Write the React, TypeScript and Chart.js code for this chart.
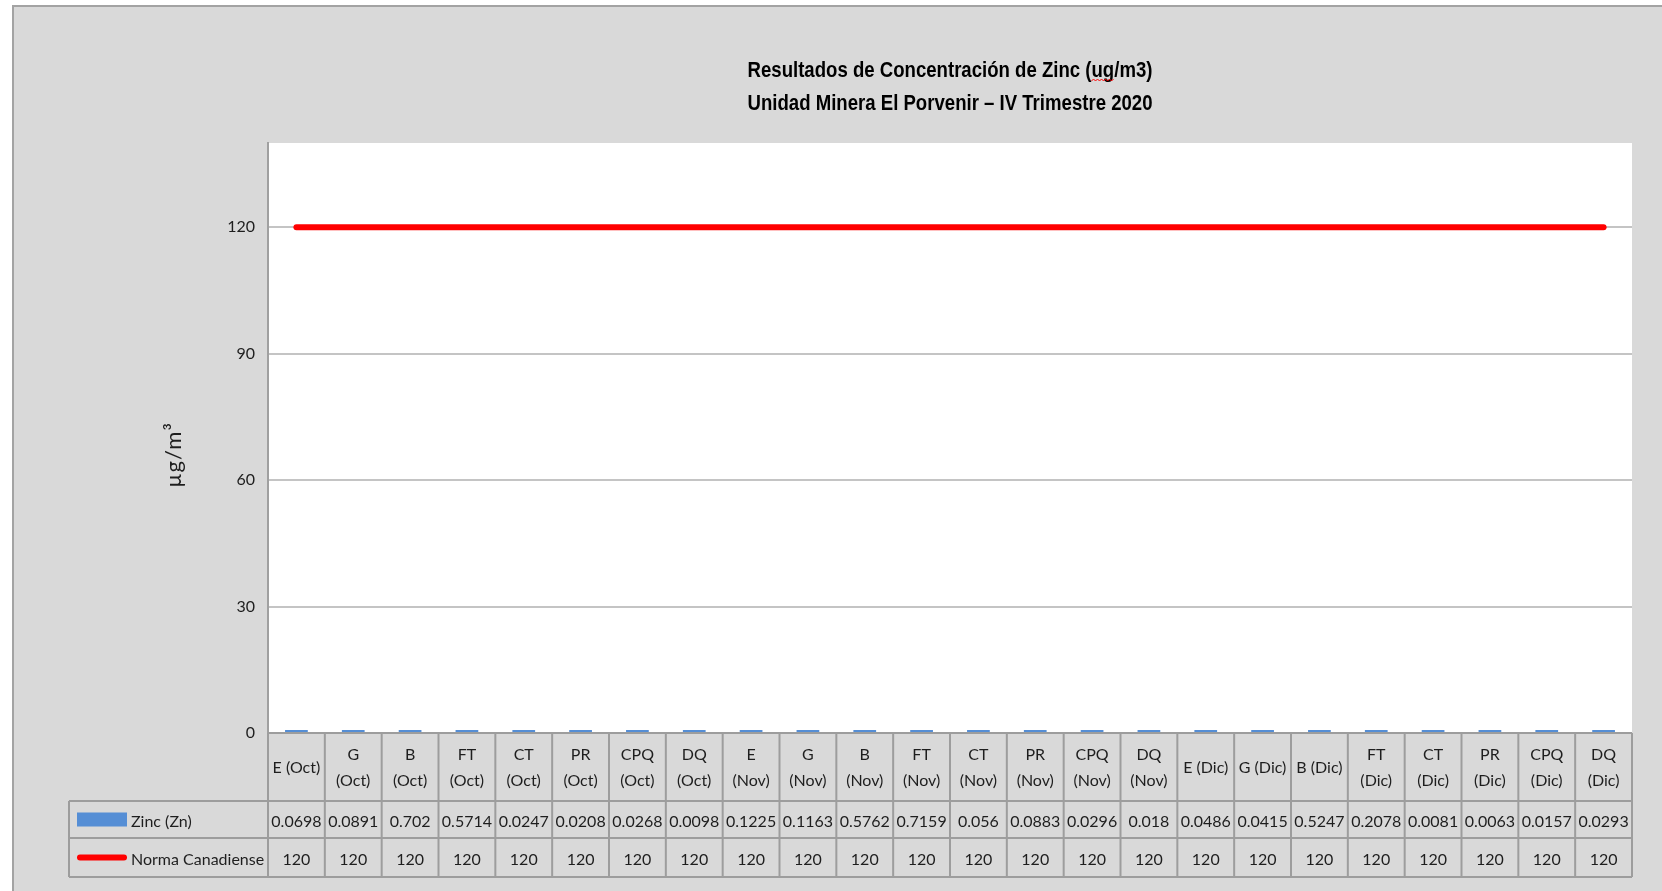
import React, { useEffect, useRef } from "react";
import { Chart, registerables } from "chart.js";

Chart.register(...registerables);

// ---------- data ----------
const TITLE_LINES = [
  "Resultados de Concentración de Zinc (ug/m3)",
  "Unidad Minera El Porvenir – IV Trimestre 2020",
];
const Y_TITLE = "µg/m³";

const categories: (string | string[])[] = [
  "E (Oct)", ["G", "(Oct)"], ["B", "(Oct)"], ["FT", "(Oct)"], ["CT", "(Oct)"], ["PR", "(Oct)"], ["CPQ", "(Oct)"], ["DQ", "(Oct)"],
  ["E", "(Nov)"], ["G", "(Nov)"], ["B", "(Nov)"], ["FT", "(Nov)"], ["CT", "(Nov)"], ["PR", "(Nov)"], ["CPQ", "(Nov)"], ["DQ", "(Nov)"],
  "E (Dic)", "G (Dic)", "B (Dic)", ["FT", "(Dic)"], ["CT", "(Dic)"], ["PR", "(Dic)"], ["CPQ", "(Dic)"], ["DQ", "(Dic)"],
];

const zincLabel = "Zinc (Zn)";
const zincValues = [
  0.0698, 0.0891, 0.702, 0.5714, 0.0247, 0.0208, 0.0268, 0.0098,
  0.1225, 0.1163, 0.5762, 0.7159, 0.056, 0.0883, 0.0296, 0.018,
  0.0486, 0.0415, 0.5247, 0.2078, 0.0081, 0.0063, 0.0157, 0.0293,
];

const normaLabel = "Norma Canadiense";
const normaValues = [
  120, 120, 120, 120, 120, 120, 120, 120,
  120, 120, 120, 120, 120, 120, 120, 120,
  120, 120, 120, 120, 120, 120, 120, 120,
];

const yTickValues = [0, 30, 60, 90, 120];
const Y_MAX = 140;

// ---------- styles ----------
const TITLE_FAMILY = "'Liberation Sans', Arial, sans-serif";
const BODY_FAMILY = "Lato, 'DejaVu Sans Condensed', sans-serif";
const TITLE_SIZE = 22;
const TITLE_SQUEEZE = 0.845;
const TEXT_COLOR = "#1e1e1e";
const LINE_COLOR = "#9d9d9d";
const ZINC_COLOR = "#558ed5";
const NORMA_COLOR = "#ff0000";

const framePlugin = {
  id: "frame",
  beforeDraw(chart: any) {
    const { ctx, width, height, chartArea } = chart;
    ctx.save();
    ctx.fillStyle = "#ffffff";
    ctx.fillRect(0, 0, width, height);
    ctx.fillStyle = "#d9d9d9";
    ctx.fillRect(12, 5, width - 12, height - 5);
    ctx.strokeStyle = "#a3a3a3";
    ctx.lineWidth = 2;
    ctx.beginPath();
    ctx.moveTo(13, height);
    ctx.lineTo(13, 6);
    ctx.lineTo(width, 6);
    ctx.stroke();
    ctx.fillStyle = "#ffffff";
    ctx.fillRect(chartArea.left, chartArea.top, chartArea.right - chartArea.left, chartArea.bottom - chartArea.top);
    ctx.restore();
  },
};

const titlePlugin = {
  id: "narrowTitle",
  afterDraw(chart: any) {
    const { ctx, chartArea } = chart;
    const cx = (chartArea.left + chartArea.right) / 2;
    const baselines = [chartArea.top - 66, chartArea.top - 33];
    ctx.save();
    ctx.font = `bold ${TITLE_SIZE}px ${TITLE_FAMILY}`;
    ctx.fillStyle = "#000000";
    ctx.textAlign = "center";
    ctx.textBaseline = "alphabetic";
    TITLE_LINES.forEach((line, i) => {
      ctx.save();
      ctx.translate(cx, baselines[i]);
      ctx.scale(TITLE_SQUEEZE, 1);
      ctx.fillText(line, 0, 0);
      ctx.restore();
    });
    // spell-check squiggle under "ug"
    const line = TITLE_LINES[0];
    const full = ctx.measureText(line).width * TITLE_SQUEEZE;
    const pre = ctx.measureText(line.slice(0, line.indexOf("ug"))).width * TITLE_SQUEEZE;
    const w = ctx.measureText("ug").width * TITLE_SQUEEZE;
    const x0 = cx - full / 2 + pre;
    const y = baselines[0] + 3;
    ctx.strokeStyle = "#ff0000";
    ctx.lineWidth = 1;
    ctx.beginPath();
    let k = 0;
    for (let xx = x0; xx <= x0 + w; xx += 2, k++) {
      const yy = y + (k % 2 ? -1 : 1);
      if (k === 0) ctx.moveTo(xx, yy);
      else ctx.lineTo(xx, yy);
    }
    ctx.stroke();

    // y axis title
    ctx.translate(174, (chartArea.top + chartArea.bottom) / 2 + 17);
    ctx.rotate(-Math.PI / 2);
    ctx.font = `22px ${BODY_FAMILY}`;
    (ctx as any).letterSpacing = "1px";
    ctx.fillStyle = TEXT_COLOR;
    ctx.textAlign = "center";
    ctx.textBaseline = "middle";
    ctx.fillText(Y_TITLE, 0, 0);
    ctx.restore();
  },
};

const tablePlugin = {
  id: "dataTable",
  afterDraw(chart: any) {
    const { ctx, chartArea } = chart;
    const x = chart.scales.x;
    const n = categories.length;
    const half = (x.getPixelForValue(1) - x.getPixelForValue(0)) / 2;
    const edges: number[] = [];
    for (let i = 0; i < n; i++) edges.push(x.getPixelForValue(i) - half);
    edges.push(x.getPixelForValue(n - 1) + half);

    const top = chartArea.bottom;
    const r1 = top + 68;
    const r2 = r1 + 37;
    const r3 = r2 + 39;
    const headLeft = 69;

    ctx.save();
    ctx.strokeStyle = LINE_COLOR;
    ctx.lineWidth = 2;
    ctx.beginPath();
    ctx.moveTo(edges[0], top);
    ctx.lineTo(edges[n], top);
    [r1, r2, r3].forEach((y) => {
      ctx.moveTo(headLeft, y);
      ctx.lineTo(edges[n], y);
    });
    edges.forEach((e) => {
      ctx.moveTo(e, top);
      ctx.lineTo(e, r3);
    });
    ctx.moveTo(headLeft, r1);
    ctx.lineTo(headLeft, r3);
    ctx.stroke();

    ctx.fillStyle = TEXT_COLOR;
    ctx.font = `16px ${BODY_FAMILY}`;
    ctx.textAlign = "center";
    ctx.textBaseline = "middle";
    const mid1 = (top + r1) / 2 + 1;
    categories.forEach((c, i) => {
      const cx = x.getPixelForValue(i);
      const lines = Array.isArray(c) ? c : [c];
      lines.forEach((l, j) => {
        ctx.fillText(l, cx, mid1 + (j - (lines.length - 1) / 2) * 26.5);
      });
    });
    const ds = chart.data.datasets;
    const mid2 = (r1 + r2) / 2 + 2;
    const mid3 = (r2 + r3) / 2 + 2.5;
    (ds[0].data as number[]).forEach((v, i) => ctx.fillText(String(v), x.getPixelForValue(i), mid2));
    (ds[1].data as number[]).forEach((v, i) => ctx.fillText(String(v), x.getPixelForValue(i), mid3));

    // row headers (legend keys)
    ctx.fillStyle = ds[0].backgroundColor;
    ctx.fillRect(77, mid2 - 9, 50, 14);
    ctx.strokeStyle = ds[1].borderColor;
    ctx.lineWidth = 6;
    ctx.lineCap = "round";
    ctx.beginPath();
    ctx.moveTo(80, mid3 - 2.5);
    ctx.lineTo(124, mid3 - 2.5);
    ctx.stroke();
    ctx.fillStyle = TEXT_COLOR;
    ctx.textAlign = "left";
    ctx.fillText(ds[0].label, 131, mid2);
    ctx.fillText(ds[1].label, 131, mid3);
    ctx.restore();
  },
};

export default function App() {
  const ref = useRef<HTMLCanvasElement>(null);

  useEffect(() => {
    if (!ref.current) return;
    const chart = new Chart(ref.current, {
      type: "bar",
      data: {
        labels: categories as any,
        datasets: [
          {
            type: "bar",
            label: zincLabel,
            data: zincValues,
            backgroundColor: ZINC_COLOR,
            borderWidth: 0,
            barPercentage: 0.4,
            categoryPercentage: 1,
            minBarLength: 3,
            order: 2,
          },
          {
            type: "line",
            label: normaLabel,
            data: normaValues,
            borderColor: NORMA_COLOR,
            backgroundColor: NORMA_COLOR,
            borderWidth: 6,
            borderCapStyle: "round",
            pointRadius: 0,
            fill: false,
            tension: 0,
            order: 1,
          },
        ] as any,
      },
      options: {
        responsive: false,
        animation: false,
        events: [],
        layout: { padding: { left: 150, right: 30, top: 143, bottom: 158 } },
        plugins: {
          legend: { display: false },
          tooltip: { enabled: false },
          title: { display: false },
        },
        scales: {
          x: { display: false, offset: true },
          y: {
            min: 0,
            max: Y_MAX,
            afterBuildTicks: (axis: any) => {
              axis.ticks = yTickValues.map((v) => ({ value: v }));
            },
            afterFit: (axis: any) => {
              axis.width = 118;
            },
            ticks: {
              padding: 13,
              color: TEXT_COLOR,
              font: { family: BODY_FAMILY, size: 16 },
            },
            grid: { color: "#c4c4c4", lineWidth: 2, drawTicks: false },
            border: { display: true, color: "#a0a0a0", width: 2 },
            title: { display: false },
          },
        },
      } as any,
      plugins: [framePlugin, tablePlugin, titlePlugin],
    });
    return () => chart.destroy();
  }, []);

  return (
    <div style={{ position: "fixed", left: 0, top: 0, width: 1662, height: 891 }}>
      <canvas ref={ref} width={1662} height={891} style={{ display: "block" }} />
    </div>
  );
}
